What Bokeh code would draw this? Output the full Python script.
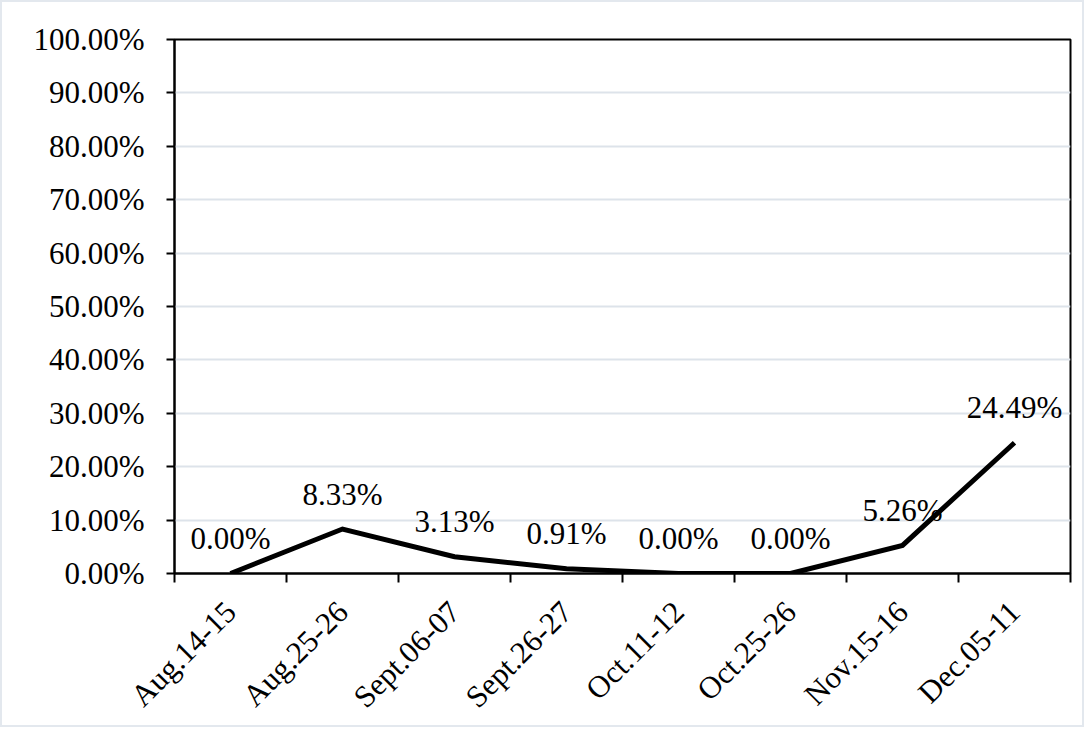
import numpy as np
from bokeh.plotting import figure
from bokeh.models import Range1d, FixedTicker, NumeralTickFormatter, ColumnDataSource
from bokeh.core.properties import value
from bokeh.embed import file_html
from bokeh.resources import INLINE

categories = ["Aug.14-15", "Aug.25-26", "Sept.06-07", "Sept.26-27",
              "Oct.11-12", "Oct.25-26", "Nov.15-16", "Dec.05-11"]
rates = [0.0, 0.0833, 0.0313, 0.0091, 0.0, 0.0, 0.0526, 0.2449]
y_ticks = [0.0, 0.1, 0.2, 0.3, 0.4, 0.5, 0.6, 0.7, 0.8, 0.9, 1.0]

FONT = "Liberation Serif"
FS = "31px"

n = len(categories)
xs = np.arange(n) + 0.5
labels = [f"{v*100:.2f}%" for v in rates]
src = ColumnDataSource(dict(x=xs, y=rates, lab=labels))

p = figure(width=1084, height=727, output_backend="svg", toolbar_location=None,
           x_range=Range1d(0, n), y_range=Range1d(0, 1.0),
           min_border_left=172, min_border_right=16, min_border_top=37,
           min_border_bottom=156)
p.styles = {"border": "2px solid #e3e8ee"}
p.background_fill_color = "white"
p.border_fill_color = "white"
p.outline_line_color = "black"
p.outline_line_width = 2
p.outline_line_alpha = 1.0

# grid
p.xgrid.grid_line_color = None
p.ygrid.grid_line_color = "#dde3ea"
p.ygrid.grid_line_width = 2

# y axis
p.yaxis.ticker = FixedTicker(ticks=y_ticks, minor_ticks=[])
p.yaxis.formatter = NumeralTickFormatter(format="0.00%")
p.yaxis.major_tick_in = 0
p.yaxis.major_tick_out = 8
p.yaxis.minor_tick_line_color = None
p.yaxis.axis_line_color = "black"
p.yaxis.axis_line_width = 2
p.yaxis.major_tick_line_width = 2
p.yaxis.major_label_text_font = FONT
p.yaxis.major_label_text_font_size = FS
p.yaxis.major_label_text_color = "black"
p.yaxis.major_label_standoff = 22

# x axis: labels at category centres, tick marks between categories
p.xaxis.ticker = FixedTicker(ticks=list(xs), minor_ticks=list(range(n + 1)))
p.xaxis.major_label_overrides = {float(x): c for x, c in zip(xs, categories)}
p.xaxis.major_tick_line_color = None
p.xaxis.major_tick_in = 0
p.xaxis.major_tick_out = 0
p.xaxis.minor_tick_in = 0
p.xaxis.minor_tick_out = 9
p.xaxis.minor_tick_line_color = "black"
p.xaxis.minor_tick_line_width = 2
p.xaxis.axis_line_color = "black"
p.xaxis.axis_line_width = 2
p.xaxis.major_label_orientation = np.pi / 4
p.xaxis.major_label_text_font = FONT
p.xaxis.major_label_text_font_size = FS
p.xaxis.major_label_text_color = "black"
p.xaxis.major_label_standoff = 24

p.line("x", "y", source=src, line_color="black", line_width=5, line_join="miter")
p.text("x", "y", text="lab", source=src, text_font=value(FONT), text_font_size=FS,
       text_align="center", text_baseline="middle", y_offset=-35, text_color="black")

open("out.html", "w").write(file_html(p, INLINE))
